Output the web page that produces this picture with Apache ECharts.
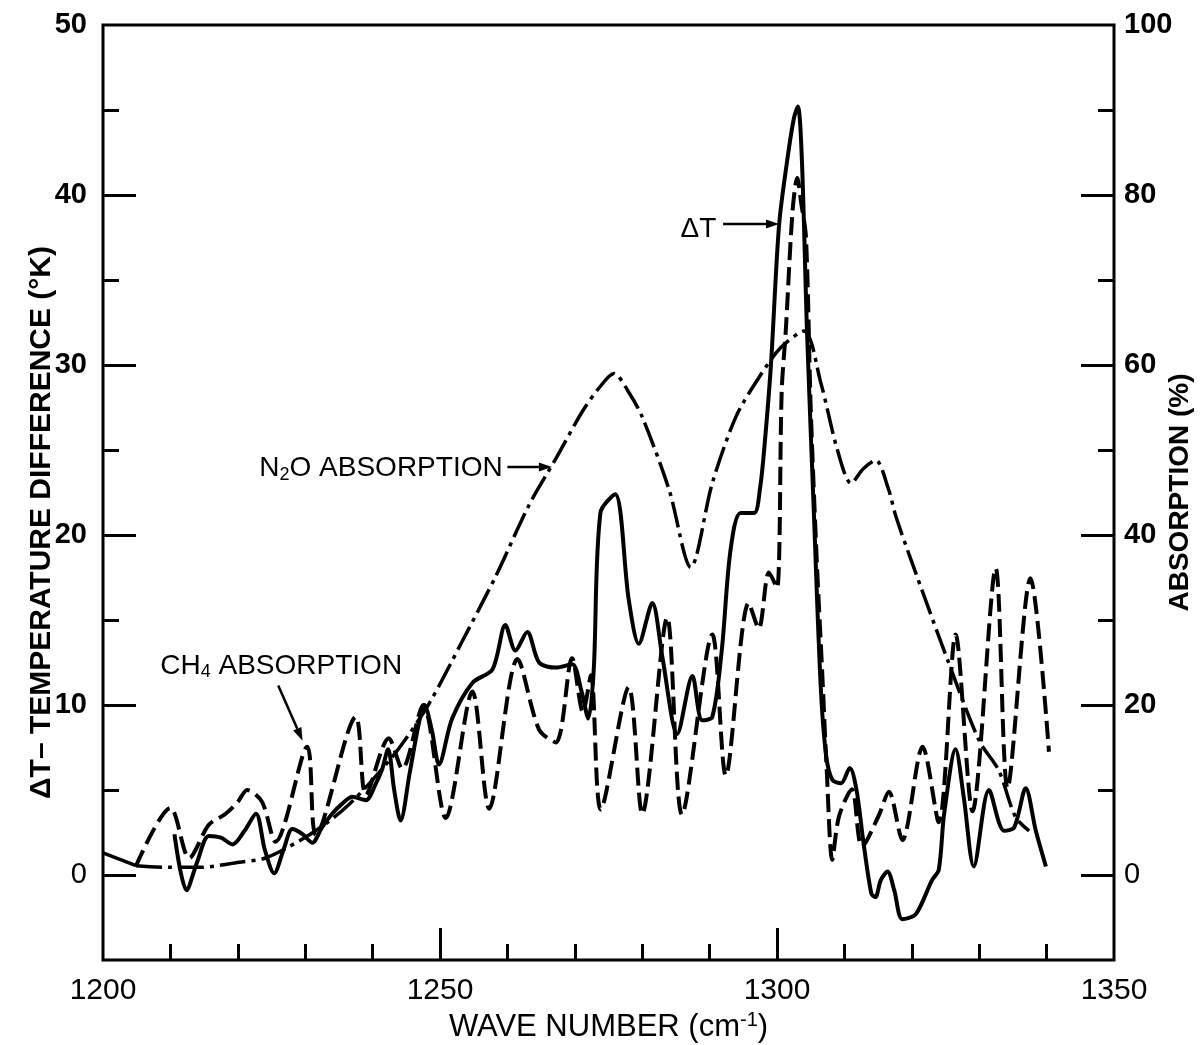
<!DOCTYPE html>
<html>
<head>
<meta charset="utf-8">
<script src="https://cdn.jsdelivr.net/npm/echarts@6/dist/echarts.min.js"></script>
<style>
html,body{margin:0;padding:0;background:#fff;}
#c{width:1204px;height:1045px;}
</style>
</head>
<body>
<div id="c"></div>
<script>
// ---------- data ----------
// Delta T, temperature difference (deg K), left axis
const dtWavenumber = [1210.6,1212.4,1214.0,1215.7,1217.5,1219.2,1221.0,1222.7,1224.0,1225.4,1226.8,1228.1,1229.6,1231.05,1232.5,1234.0,1235.5,1237.0,1239.0,1240.5,1241.4,1242.3,1243.2,1244.15,1245.5,1246.9,1247.7,1248.8,1249.85,1251.8,1254.8,1257.8,1259.7,1261.2,1262.95,1264.7,1267.2,1269.6,1271.0,1272.0,1272.8,1273.8,1276.0,1278.0,1279.5,1281.5,1283.0,1285.2,1287.45,1288.9,1290.4,1291.8,1293.1,1294.6,1296.6,1297.5,1298.2,1299.1,1300.3,1301.5,1302.5,1303.1,1303.7,1304.45,1305.5,1306.5,1307.3,1308.2,1309.5,1310.8,1311.8,1312.8,1314.0,1314.6,1315.4,1316.4,1317.4,1318.6,1320.6,1323.0,1324.0,1324.8,1326.5,1327.7,1329.2,1331.45,1333.7,1335.2,1336.9,1338.4,1339.9];
const dtValues     = [2.4,-0.9,0.8,2.3,2.2,1.8,2.6,3.6,1.5,0.1,1.5,2.7,2.4,1.9,2.8,3.6,4.2,4.6,4.4,5.4,6.2,7.4,5.0,3.2,6.0,9.0,10.0,8.5,6.5,9.2,11.3,12.1,14.7,13.2,14.3,12.5,12.2,12.4,10.8,9.2,12.0,21.3,22.4,16.2,13.6,16.0,12.8,8.3,11.7,9.1,9.3,13.2,19.1,21.3,21.3,22.8,25.5,30.0,38.2,42.0,44.5,45.2,42.0,32.0,21.0,11.0,7.0,5.6,5.4,6.3,5.0,2.0,-1.1,-1.3,-0.3,0.2,-0.9,-2.6,-2.3,-0.3,0.3,3.6,7.4,4.6,0.5,5.0,2.6,2.8,5.1,2.6,0.5];

// CH4 absorption (%), right axis
const ch4Wavenumber = [1204.85,1210.0,1212.8,1215.7,1218.2,1220.0,1221.4,1223.6,1225.6,1230.3,1231.6,1237.5,1239.0,1242.4,1244.4,1247.5,1250.85,1254.8,1257.3,1261.5,1264.7,1267.2,1269.6,1271.2,1272.4,1273.85,1278.0,1280.0,1283.7,1285.9,1290.4,1292.4,1295.8,1297.3,1298.8,1300.0,1300.7,1301.3,1302.3,1303.0,1303.6,1304.3,1305.0,1305.9,1306.7,1307.4,1308.2,1309.2,1311.1,1312.6,1315.1,1316.6,1318.6,1321.6,1324.0,1326.5,1329.0,1332.45,1334.2,1337.6,1340.35];
const ch4Values     = [1.0,7.9,2.0,5.9,7.2,8.6,10.0,8.6,3.9,15.1,4.7,18.6,9.4,16.1,12.5,20.0,6.7,21.6,7.8,25.4,17.1,15.6,25.5,19.2,23.5,7.7,22.1,7.2,30.3,7.1,28.3,11.7,32.0,29.0,35.6,33.8,57.0,64.0,78.0,82.0,79.0,75.0,55.0,37.0,24.0,12.0,1.8,6.9,10.1,3.3,7.0,9.8,4.1,15.1,6.2,28.3,7.5,36.1,10.2,34.9,14.5];

// N2O absorption (%), right axis
const n2oWavenumber = [1200.0,1204.9,1209.8,1214.2,1220.2,1224.1,1229.1,1233.0,1236.5,1240.0,1244.0,1248.4,1253.3,1258.3,1263.2,1267.2,1271.1,1273.8,1275.8,1278.0,1280.0,1284.0,1287.2,1290.4,1293.9,1297.3,1300.5,1304.0,1306.5,1309.0,1311.0,1312.8,1314.65,1316.5,1317.6,1320.1,1325.5,1330.0,1332.9,1335.4,1337.4];
const n2oValues     = [2.6,1.1,0.9,0.9,1.5,2.0,4.0,6.0,8.3,11.2,15.0,20.2,27.5,35.2,43.5,49.0,54.5,57.5,59.0,56.8,53.9,45.3,36.2,46.1,53.9,58.5,62.0,64.0,57.9,49.9,46.1,47.8,48.8,45.5,42.3,36.6,24.9,15.8,12.3,6.8,5.2];
const n2oSolidCount = 2; // first segment of the N2O curve is drawn solid

// ticks and labels
const xTickLabels = [1200, 1250, 1300, 1350];
const xMajorTicks = [1250, 1300];
const xMinorTicks = [1210, 1220, 1230, 1240, 1260, 1270, 1280, 1290, 1310, 1320, 1330, 1340];
const leftTickLabels = [0, 10, 20, 30, 40, 50];
const leftMajorTicks = [0, 10, 20, 30, 40];
const leftMinorTicks = [5, 15, 25, 35, 45];
const rightTickLabels = [0, 20, 40, 60, 80, 100];
const rightMajorTicks = [0, 20, 40, 60, 80];
const rightMinorTicks = [10, 30, 50, 70, 90];

// annotations
const annotationTexts = ['ΔT', 'N{sub|2}O ABSORPTION', 'CH{sub|4} ABSORPTION'];
const annotationAxis = [0, 1, 1];
const annotationLabelAt = [[1291.0, 38.0], [1259.3, 47.8], [1208.5, 24.6]];
const annotationAlign = ['right', 'right', 'left'];
const annotationArrowFrom = [[1292.0, 38.3], [1260.0, 48.0], [1226.0, 22.3]];
const annotationArrowTo = [[1300.3, 38.3], [1266.6, 48.0], [1229.6, 15.8]];

// ---------- chart ----------
const FONT = '"Liberation Sans", Arial, Helvetica, sans-serif';
const zip = (xs, ys) => xs.map((x, i) => [x, ys[i]]);
const chart = echarts.init(document.getElementById('c'), null, {renderer: 'canvas'});

const tickStyle = {color: '#000', width: 3};
const yLabelFmt = v => (v === 0 ? '{n|0}' : '{b|' + v + '}');
const yLabelRich = {
  n: {fontSize: 29, fontFamily: FONT, color: '#000', fontWeight: 'normal'},
  b: {fontSize: 29, fontFamily: FONT, color: '#000', fontWeight: 'bold'}
};

const option = {
  animation: false,
  backgroundColor: '#fff',
  grid: {left: 103, right: 90, top: 25, bottom: 85, outerBoundsMode: 'none', containLabel: false,
         show: true, borderColor: '#000', borderWidth: 3, backgroundColor: 'transparent'},
  xAxis: [
    {
      type: 'value', min: 1200, max: 1350, position: 'bottom',
      axisLine: {show: false, onZero: false}, splitLine: {show: false},
      axisTick: {show: true, inside: true, length: 32, customValues: xMajorTicks, lineStyle: tickStyle},
      axisLabel: {customValues: xTickLabels, margin: 16, fontSize: 30, color: '#000', fontFamily: FONT,
                  formatter: v => String(v)},
      name: 'WAVE NUMBER (cm{sup|-1})', nameLocation: 'middle', nameGap: 50, nameMoveOverlap: false,
      nameTextStyle: {fontSize: 31, fontFamily: FONT, color: '#000', lineHeight: 34,
        rich: {sup: {fontSize: 20, fontFamily: FONT, color: '#000', lineHeight: 12, verticalAlign: 'top'}}}
    },
    {
      type: 'value', min: 1200, max: 1350, position: 'bottom',
      axisLine: {show: false, onZero: false}, splitLine: {show: false},
      axisTick: {show: true, inside: true, length: 16, customValues: xMinorTicks, lineStyle: tickStyle},
      axisLabel: {show: false}
    }
  ],
  yAxis: [
    {
      type: 'value', min: -5, max: 50, position: 'left',
      axisLine: {show: false, onZero: false}, splitLine: {show: false},
      axisTick: {show: true, inside: true, length: 33, customValues: leftMajorTicks, lineStyle: tickStyle},
      axisLabel: {customValues: leftTickLabels, margin: 16, formatter: yLabelFmt, rich: yLabelRich},
      name: 'ΔT– TEMPERATURE DIFFERENCE (°K)', nameLocation: 'middle', nameRotate: 90, nameGap: 46,
      nameMoveOverlap: false,
      nameTextStyle: {fontSize: 30, fontWeight: 'bold', fontFamily: FONT, color: '#000', padding: [0, 60, 0, 0]}
    },
    {
      type: 'value', min: -10, max: 100, interval: 10, position: 'right',
      axisLine: {show: false, onZero: false}, splitLine: {show: false},
      axisTick: {show: true, inside: true, length: 33, customValues: rightMajorTicks, lineStyle: tickStyle},
      axisLabel: {customValues: rightTickLabels, margin: 10, formatter: yLabelFmt, rich: yLabelRich},
      name: 'ABSORPTION (%)', nameLocation: 'middle', nameRotate: 90, nameGap: 52, nameMoveOverlap: false,
      nameTextStyle: {fontSize: 28, fontWeight: 'bold', fontFamily: FONT, color: '#000'}
    },
    {
      type: 'value', min: -5, max: 50, position: 'left',
      axisLine: {show: false, onZero: false}, splitLine: {show: false},
      axisTick: {show: true, inside: true, length: 16, customValues: leftMinorTicks, lineStyle: tickStyle},
      axisLabel: {show: false}
    },
    {
      type: 'value', min: -10, max: 100, interval: 10, position: 'right',
      axisLine: {show: false, onZero: false}, splitLine: {show: false},
      axisTick: {show: true, inside: true, length: 16, customValues: rightMinorTicks, lineStyle: tickStyle},
      axisLabel: {show: false}
    }
  ],
  series: [
    {
      type: 'line', name: 'N2O absorption', xAxisIndex: 0, yAxisIndex: 1,
      data: zip(n2oWavenumber, n2oValues).slice(0, n2oSolidCount),
      symbol: 'none', lineStyle: {color: '#000', width: 3.5, type: 'solid'}
    },
    {
      type: 'line', name: 'N2O absorption ', xAxisIndex: 0, yAxisIndex: 1,
      data: zip(n2oWavenumber, n2oValues).slice(n2oSolidCount - 1),
      symbol: 'none', smooth: 0.3, lineStyle: {color: '#000', width: 3.5, type: [26, 6, 4, 6]}
    },
    {
      type: 'line', name: 'CH4 absorption', xAxisIndex: 0, yAxisIndex: 1,
      data: zip(ch4Wavenumber, ch4Values),
      symbol: 'none', smooth: 0.3, lineStyle: {color: '#000', width: 4, type: [18, 7]}
    },
    {
      type: 'line', name: 'ΔT', xAxisIndex: 0, yAxisIndex: 0,
      data: zip(dtWavenumber, dtValues),
      symbol: 'none', smooth: 0.3, lineStyle: {color: '#000', width: 4}, z: 5
    }
  ]
};
chart.setOption(option);

// ---------- annotations placed through the axes ----------
function toPx(axisIdx, p) {
  return chart.convertToPixel({xAxisIndex: 0, yAxisIndex: axisIdx}, p);
}
const elements = [];
annotationTexts.forEach((txt, i) => {
  const ax = annotationAxis[i];
  const lp = toPx(ax, annotationLabelAt[i]);
  elements.push({
    type: 'text', x: lp[0], y: lp[1], z: 10,
    style: {
      text: txt, fill: '#000', fontSize: 28, fontFamily: FONT,
      align: annotationAlign[i], verticalAlign: 'middle', lineHeight: 30,
      rich: {sub: {fontSize: 18, fontFamily: FONT, fill: '#000', lineHeight: 8, verticalAlign: 'bottom'}}
    }
  });
  const a = toPx(ax, annotationArrowFrom[i]);
  const b = toPx(ax, annotationArrowTo[i]);
  const dx = b[0] - a[0], dy = b[1] - a[1];
  const len = Math.sqrt(dx * dx + dy * dy);
  const ux = dx / len, uy = dy / len;
  const hl = 13, hw = 4.5;
  const base = [b[0] - ux * hl, b[1] - uy * hl];
  elements.push({
    type: 'line', z: 10,
    shape: {x1: a[0], y1: a[1], x2: base[0], y2: base[1]},
    style: {stroke: '#000', lineWidth: 2.5}
  });
  elements.push({
    type: 'polygon', z: 10,
    shape: {points: [b, [base[0] - uy * hw, base[1] + ux * hw], [base[0] + uy * hw, base[1] - ux * hw]]},
    style: {fill: '#000'}
  });
});
chart.setOption({graphic: {elements: elements}});
</script>
</body>
</html>
